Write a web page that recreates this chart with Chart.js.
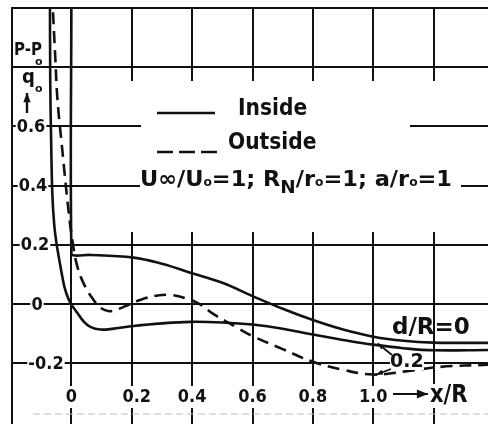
<!DOCTYPE html>
<html>
<head>
<meta charset="utf-8">
<script src="https://cdn.jsdelivr.net/npm/chart.js@4.4.1/dist/chart.umd.min.js"></script>
<style>
  html, body { margin: 0; padding: 0; background: #fff; }
  #wrap { width: 488px; height: 424px; position: relative; }
</style>
</head>
<body>
<div id="wrap"><canvas id="pressure"></canvas></div>
<script>
// (p - p0)/q0 against x/R, inside curve for d/R = 0
var insideZeroX = [0, 0, 0.012, 0.063, 0.206, 0.3, 0.394, 0.5, 0.6, 0.7, 0.8, 0.9, 1.0, 1.1, 1.2, 1.382];
var insideZeroY = [1.05, 0.17, 0.164, 0.166, 0.157, 0.136, 0.106, 0.072, 0.027, -0.016, -0.054, -0.086, -0.11, -0.124, -0.13, -0.131];

// inside curve for d/R = 0.2
var insideTwoX = [-0.071, -0.07, -0.067, -0.063, -0.057, -0.05, -0.036, -0.023, -0.01, 0.003, 0.02, 0.04, 0.063, 0.096, 0.14, 0.206, 0.3, 0.394, 0.5, 0.6, 0.7, 0.8, 0.9, 1.0, 1.1, 1.2, 1.382];
var insideTwoY = [1.05, 0.75, 0.55, 0.37, 0.27, 0.21, 0.126, 0.058, 0.018, -0.006, -0.03, -0.058, -0.077, -0.086, -0.083, -0.074, -0.065, -0.06, -0.062, -0.069, -0.083, -0.103, -0.121, -0.137, -0.149, -0.156, -0.155];

// outside curve for d/R = 0.2
var outsideTwoX = [-0.064, -0.053, -0.046, -0.03, -0.01, 0.003, 0.02, 0.046, 0.073, 0.096, 0.125, 0.155, 0.19, 0.23, 0.28, 0.328, 0.384, 0.428, 0.471, 0.55, 0.6, 0.7, 0.8, 0.9, 1.0, 1.1, 1.223, 1.382];
var outsideTwoY = [1.05, 0.826, 0.69, 0.52, 0.32, 0.217, 0.126, 0.058, 0.015, -0.012, -0.024, -0.017, -0.002, 0.015, 0.028, 0.031, 0.018, -0.002, -0.034, -0.08, -0.108, -0.152, -0.195, -0.222, -0.238, -0.228, -0.212, -0.205];

// ticks
var xTickValues = [0, 0.2, 0.4, 0.6, 0.8, 1.0];
var xTickLabels = ['0', '0.2', '0.4', '0.6', '0.8', '1.0'];
var xGridValues = [0, 0.2, 0.4, 0.6, 0.8, 1.0, 1.2];
var yTickValues = [0.6, 0.4, 0.2, 0, -0.2];
var yTickLabels = ['0.6', '0.4', '0.2', '0', '-0.2'];
var yGridValues = [1.0, 0.8, 0.6, 0.4, 0.2, 0, -0.2];

var INK = '#111';
var FONT = '"DejaVu Sans", "Liberation Sans", sans-serif';

function pairs(xs, ys) {
    return xs.map(function(x, i) { return { x: x, y: ys[i] }; });
}

function text(ctx, s, x, y, size, sx, align) {
    ctx.save();
    ctx.font = 'bold ' + size + 'px ' + FONT;
    ctx.textBaseline = 'middle';
    ctx.textAlign = 'left';
    var w = ctx.measureText(s).width * sx;
    var x0 = align === 'center' ? x - w / 2 : (align === 'right' ? x - w : x);
    ctx.translate(x0, y);
    ctx.scale(sx, 1);
    ctx.fillText(s, 0, 0);
    ctx.restore();
    return { left: x0, width: w };
}

// runs of [string, size, vertical shift], squeezed to a given width
function richText(ctx, runs, x, y, width) {
    var natural = 0;
    runs.forEach(function(r) {
        ctx.font = 'bold ' + r[1] + 'px ' + FONT;
        natural += ctx.measureText(r[0]).width;
    });
    var sx = width / natural;
    var cx = x;
    runs.forEach(function(r) {
        var t = text(ctx, r[0], cx, y + r[2], r[1], sx, 'left');
        cx += t.width;
    });
}

function arrow(ctx, x1, y1, x2, y2, head) {
    var a = Math.atan2(y2 - y1, x2 - x1);
    ctx.beginPath();
    ctx.moveTo(x1, y1);
    ctx.lineTo(x2, y2);
    ctx.stroke();
    ctx.beginPath();
    ctx.moveTo(x2, y2);
    ctx.lineTo(x2 - head * Math.cos(a - 0.38), y2 - head * Math.sin(a - 0.38));
    ctx.lineTo(x2 - head * Math.cos(a + 0.38), y2 - head * Math.sin(a + 0.38));
    ctx.closePath();
    ctx.fill();
}

function line(ctx, x1, y1, x2, y2) {
    ctx.beginPath();
    ctx.moveTo(x1, y1);
    ctx.lineTo(x2, y2);
    ctx.stroke();
}

var paperGrid = {
    id: 'paperGrid',
    beforeDatasetsDraw: function(chart) {
        var ctx = chart.ctx;
        var area = chart.chartArea;
        var xs = chart.scales.x;
        var ys = chart.scales.y;
        ctx.save();
        ctx.strokeStyle = INK;
        ctx.fillStyle = INK;
        ctx.lineWidth = 2;

        // frame: left edge (top edge is the 1.0 rule)
        line(ctx, area.left + 1, area.top, area.left + 1, area.bottom);

        // vertical rules, broken where the key sits
        xGridValues.forEach(function(v) {
            var px = Math.round(xs.getPixelForValue(v));
            if (v === 0) {
                line(ctx, px, area.top, px, area.bottom);
            } else {
                line(ctx, px, area.top, px, 81);
                line(ctx, px, 232, px, area.bottom);
            }
        });

        // horizontal rules
        yGridValues.forEach(function(v) {
            var py = Math.round(ys.getPixelForValue(v));
            if (v === 0.6) {
                line(ctx, area.left, py, 141, py);
                line(ctx, 410, py, area.right, py);
            } else if (v === 0.4) {
                line(ctx, area.left, py, 140, py);
                line(ctx, 461, py, area.right, py);
            } else {
                line(ctx, area.left, py, area.right, py);
            }
        });

        // faint rule under the x labels
        ctx.save();
        ctx.strokeStyle = '#bdbdbd';
        ctx.lineWidth = 1;
        ctx.setLineDash([7, 4]);
        line(ctx, 33, 414, area.right, 414);
        ctx.restore();

        // y tick labels on white patches
        var yCenters = [31, 33, 35, 37, 46];
        yTickValues.forEach(function(v, i) {
            var py = ys.getPixelForValue(v);
            ctx.font = 'bold 17px ' + FONT;
            var w = ctx.measureText(yTickLabels[i]).width * 0.95;
            ctx.fillStyle = '#fff';
            ctx.fillRect(yCenters[i] - w / 2 - 1, py - 8, w + 2, 16);
            ctx.fillStyle = INK;
            text(ctx, yTickLabels[i], yCenters[i], py + 1, 17, 0.95, 'center');
        });

        // x tick labels on white patches
        xTickValues.forEach(function(v, i) {
            var px = xs.getPixelForValue(v) + (v === 0.2 ? 5 : 0);
            ctx.font = 'bold 17px ' + FONT;
            var w = ctx.measureText(xTickLabels[i]).width * 0.95;
            ctx.fillStyle = '#fff';
            ctx.fillRect(px - w / 2 - 2, 386, w + 4, 22);
            ctx.fillStyle = INK;
            text(ctx, xTickLabels[i], px, 398, 17, 0.95, 'center');
        });

        // x/R axis title with its arrow
        ctx.fillStyle = '#fff';
        ctx.fillRect(392, 384, 84, 24);
        ctx.fillStyle = INK;
        ctx.lineWidth = 2.2;
        arrow(ctx, 393, 394, 428, 394, 12);
        text(ctx, 'x/R', 430, 396, 24, 0.88, 'left');

        // y axis title (P - P0)/q0 with upward arrow
        text(ctx, 'P-P', 14, 51, 17, 0.88, 'left');
        text(ctx, 'o', 35, 62, 11, 1, 'left');
        text(ctx, 'q', 22, 78, 19, 0.95, 'left');
        text(ctx, 'o', 35, 89, 11, 1, 'left');
        ctx.lineWidth = 2.4;
        arrow(ctx, 27, 113, 27, 93, 10);

        ctx.restore();
    },
    afterDatasetsDraw: function(chart) {
        var ctx = chart.ctx;
        var xs = chart.scales.x;
        var ys = chart.scales.y;
        ctx.save();
        ctx.strokeStyle = INK;
        ctx.fillStyle = INK;

        // key
        ctx.lineWidth = 2.6;
        line(ctx, 157, 113, 215, 113);
        text(ctx, 'Inside', 238, 109, 23, 0.88, 'left');
        ctx.save();
        ctx.setLineDash([16, 6]);
        line(ctx, 157, 152, 221, 152);
        ctx.restore();
        text(ctx, 'Outside', 228, 143, 23, 0.88, 'left');
        richText(ctx, [
            ['U\u221e/U', 22, 0], ['o', 12, 3], ['=1; R', 22, 0], ['N', 18, 8],
            ['/r', 22, 0], ['o', 12, 3], ['=1; a/r', 22, 0], ['o', 12, 3], ['=1', 22, 0]
        ], 140, 180, 312);

        // curve labels
        text(ctx, 'd/R=0', 392, 328, 23, 1.0, 'left');
        ctx.fillStyle = '#fff';
        ctx.fillRect(390, 354, 34, 16);
        ctx.fillStyle = INK;
        text(ctx, '0.2', 390, 362, 19, 1.0, 'left');
        ctx.lineWidth = 1.8;
        arrow(ctx, 392, 355, xs.getPixelForValue(1.015), ys.getPixelForValue(-0.133), 7);
        arrow(ctx, 391, 369, xs.getPixelForValue(1.01), ys.getPixelForValue(-0.238), 7);

        ctx.restore();
    }
};

var curveStyle = {
    borderColor: INK,
    borderWidth: 2.6,
    pointRadius: 0,
    fill: false,
    tension: 0.4
};

new Chart(document.getElementById('pressure'), {
    type: 'line',
    data: {
        datasets: [
            Object.assign({ label: 'Inside, d/R = 0', data: pairs(insideZeroX, insideZeroY) }, curveStyle),
            Object.assign({ label: 'Inside, d/R = 0.2', data: pairs(insideTwoX, insideTwoY) }, curveStyle),
            Object.assign({ label: 'Outside, d/R = 0.2', data: pairs(outsideTwoX, outsideTwoY), borderDash: [12, 7] }, curveStyle)
        ]
    },
    options: {
        responsive: true,
        maintainAspectRatio: false,
        animation: false,
        devicePixelRatio: 1,
        layout: { padding: { left: 11, top: 8, right: 0, bottom: 0 } },
        plugins: {
            legend: { display: false },
            tooltip: { enabled: false }
        },
        scales: {
            x: { type: 'linear', min: -0.2, max: 1.38, display: false },
            y: { type: 'linear', min: -0.405, max: 1.0, display: false }
        }
    },
    plugins: [paperGrid]
});
</script>
</body>
</html>
